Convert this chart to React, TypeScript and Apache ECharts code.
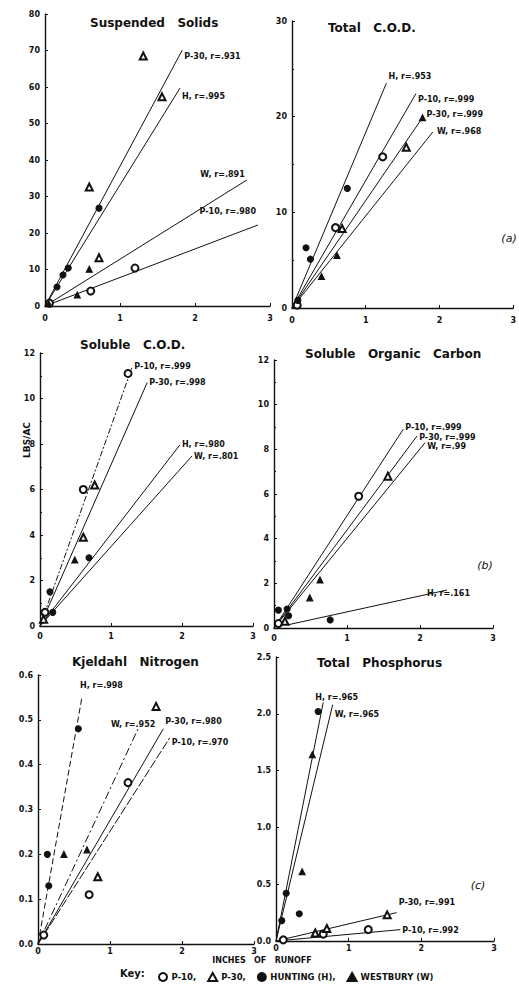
import React, { useEffect, useRef } from "react";
import * as echarts from "echarts";

// ---------------- data ----------------
const xTicks = [0, 1, 2, 3];
const siteNames = ["P-10", "P-30", "HUNTING (H)", "WESTBURY (W)"];
const panelTitles = [
  "Suspended   Solids",
  "Total   C.O.D.",
  "Soluble   C.O.D.",
  "Soluble   Organic   Carbon",
  "Kjeldahl   Nitrogen",
  "Total   Phosphorus",
];
const yMaxes = [80, 30, 12, 12, 0.6, 2.5];
const yIntervals = [10, 10, 2, 2, 0.1, 0.5];
const yDecimals = [0, 0, 0, 0, 1, 1];

// (a) Suspended Solids
const ssP10 = [[0.06, 0.8], [0.61, 4.1], [1.2, 10.4]];
const ssP30 = [[0.59, 32.6], [0.72, 13.2], [1.31, 68.5], [1.56, 57.3]];
const ssH = [[0.16, 5.2], [0.24, 8.5], [0.31, 10.4], [0.72, 26.8]];
const ssW = [[0.05, 0.6], [0.43, 3.0], [0.59, 10.1]];
const ssFitP10 = [[0, 0], [2.84, 22.2]];
const ssFitP30 = [[0, 0], [1.83, 70.1]];
const ssFitH = [[0, 0], [1.8, 59.7]];
const ssFitW = [[0, 0], [2.69, 34.5]];
const ssFitText = ["P-10, r=.980", "P-30, r=.931", "H, r=.995", "W, r=.891"];

// (a) Total C.O.D.
const tcP10 = [[0.07, 0.3], [0.59, 8.4], [1.23, 15.8]];
const tcP30 = [[0.68, 8.3], [1.55, 16.8]];
const tcH = [[0.08, 0.8], [0.19, 6.3], [0.25, 5.1], [0.75, 12.5]];
const tcW = [[0.4, 3.3], [0.61, 5.5], [1.77, 19.9]];
const tcFitP10 = [[0, 0], [1.68, 22.4]];
const tcFitP30 = [[0, 0], [1.77, 19.9]];
const tcFitH = [[0, 0], [1.28, 23.5]];
const tcFitW = [[0, 0], [1.91, 18.4]];
const tcFitText = ["P-10, r=.999", "P-30, r=.999", "H, r=.953", "W, r=.968"];

// (b) Soluble C.O.D.
const scP10 = [[0.07, 0.6], [0.61, 6.0], [1.24, 11.1]];
const scP30 = [[0.05, 0.3], [0.61, 3.9], [0.77, 6.2]];
const scH = [[0.14, 1.5], [0.18, 0.6], [0.69, 3.0]];
const scW = [[0.49, 2.9]];
const scFitP10 = [[0, 0], [1.3, 11.4]];
const scFitP30 = [[0, 0], [1.51, 10.7]];
const scFitH = [[0, 0], [1.97, 7.96]];
const scFitW = [[0, 0], [2.14, 7.47]];
const scFitText = ["P-10, r=.999", "P-30, r=.998", "H, r=.980", "W, r=.801"];

// (b) Soluble Organic Carbon
const socP10 = [[0.06, 0.2], [1.16, 5.9]];
const socP30 = [[0.15, 0.3], [1.56, 6.8]];
const socH = [[0.06, 0.8], [0.18, 0.85], [0.2, 0.55], [0.77, 0.36]];
const socW = [[0.49, 1.35], [0.63, 2.15]];
const socFitP10 = [[0, 0], [1.77, 8.9]];
const socFitP30 = [[0, 0], [1.96, 8.6]];
const socFitH = [[0.2, 0.15], [2.37, 1.7]];
const socFitW = [[0, 0], [2.07, 8.3]];
const socFitText = ["P-10, r=.999", "P-30, r=.999", "H, r=.161", "W, r=.99"];

// (c) Kjeldahl Nitrogen
const knP10 = [[0.08, 0.02], [0.71, 0.11], [1.25, 0.36]];
const knP30 = [[0.83, 0.15], [1.64, 0.53]];
const knH = [[0.13, 0.2], [0.15, 0.13], [0.56, 0.48]];
const knW = [[0.36, 0.2], [0.68, 0.21]];
const knFitP10 = [[0, 0], [1.83, 0.46]];
const knFitP30 = [[0, 0], [1.74, 0.48]];
const knFitH = [[0, 0], [0.61, 0.55]];
const knFitW = [[0, 0], [1.39, 0.48]];
const knFitText = ["P-10, r=.970", "P-30, r=.980", "H, r=.998", "W, r=.952"];

// (c) Total Phosphorus
const tpP10 = [[0.1, 0.01], [0.65, 0.06], [1.27, 0.1]];
const tpP30 = [[0.54, 0.07], [0.7, 0.11], [1.53, 0.23]];
const tpH = [[0.08, 0.18], [0.14, 0.42], [0.32, 0.24], [0.58, 2.02]];
const tpW = [[0.36, 0.61], [0.5, 1.64]];
const tpFitP10 = [[0, 0], [1.71, 0.1]];
const tpFitP30 = [[0, 0], [1.66, 0.25]];
const tpFitH = [[0, 0], [0.65, 2.1]];
const tpFitW = [[0, 0], [0.78, 2.08]];
const tpFitText = ["P-10, r=.992", "P-30, r=.991", "H, r=.965", "W, r=.965"];

// ---------------- layout / style ----------------
const INK = "#111111";
const FONT = "DejaVu Sans";

// grid boxes [left, top, width, height]
const boxes = [
  [45, 14, 225, 292],
  [292, 21, 224, 287],
  [40, 353, 213, 273],
  [274, 360, 219, 268],
  [38, 675, 216, 269],
  [276, 657, 218, 284],
];
const xLabelMargins = [8, 8, 6, 6, 3, 3];
const titlePos = [
  [90, 23],
  [328, 28],
  [80, 345],
  [305, 354],
  [72, 662],
  [317, 663],
];
const minorTicks = [false, true, true, true, false, false];

const SYM = [
  { symbol: "emptyCircle", size: 7 },
  { symbol: "emptyTriangle", size: 7 },
  { symbol: "circle", size: 6 },
  { symbol: "triangle", size: 6 },
];

// label placement per fit line: [position, dx, dy], order P-10, P-30, H, W
const fitLabelPlace: any[][] = [
  [["left", 0, -13], ["right", 0, 6], ["right", 0, 8], ["left", 0, -6]],
  [["right", 0, 6], ["right", 2, -3], ["right", 0, -7], ["right", 2, 0]],
  [["right", 0, 0], ["right", 0, 0], ["right", 0, 0], ["right", 0, 0]],
  [["right", 0, -2], ["right", 0, 2], ["right", -22, 3], ["right", 0, 4]],
  [["right", 0, 5], ["right", 0, -7], ["right", -4, -12], ["top", -5, 2]],
  [["right", 0, 1], ["right", 0, -10], ["right", -10, -5], ["right", 0, 10]],
];
const fitDash: any[][] = [
  ["solid", "solid", "solid", "solid"],
  ["solid", "solid", "solid", "solid"],
  [[6, 2, 2, 2], "solid", "solid", "solid"],
  ["solid", "solid", "solid", "solid"],
  [[9, 2], "solid", [6, 3], [8, 3, 2, 3]],
  ["solid", "solid", "solid", "solid"],
];

const panelPoints = [
  [ssP10, ssP30, ssH, ssW],
  [tcP10, tcP30, tcH, tcW],
  [scP10, scP30, scH, scW],
  [socP10, socP30, socH, socW],
  [knP10, knP30, knH, knW],
  [tpP10, tpP30, tpH, tpW],
];
const panelFits = [
  [ssFitP10, ssFitP30, ssFitH, ssFitW],
  [tcFitP10, tcFitP30, tcFitH, tcFitW],
  [scFitP10, scFitP30, scFitH, scFitW],
  [socFitP10, socFitP30, socFitH, socFitW],
  [knFitP10, knFitP30, knFitH, knFitW],
  [tpFitP10, tpFitP30, tpFitH, tpFitW],
];
const panelFitText = [ssFitText, tcFitText, scFitText, socFitText, knFitText, tpFitText];

function buildOption() {
  const grid: any[] = [];
  const xAxis: any[] = [];
  const yAxis: any[] = [];
  const series: any[] = [];
  const graphic: any[] = [];
  const lineStyle = { color: INK, width: 1.4 };
  const labelBase = { color: INK, fontSize: 8, fontFamily: FONT, fontWeight: "bold" };

  boxes.forEach((b, i) => {
    grid.push({ left: b[0], top: b[1], width: b[2], height: b[3] });
    xAxis.push({
      type: "value",
      gridIndex: i,
      min: xTicks[0],
      max: xTicks[xTicks.length - 1],
      interval: 1,
      axisLine: { show: true, onZero: false, lineStyle },
      axisTick: { show: true, inside: true, length: 3, lineStyle: { color: INK } },
      axisLabel: { ...labelBase, margin: xLabelMargins[i], formatter: (v: number) => String(v) },
      splitLine: { show: false },
    });
    yAxis.push({
      type: "value",
      gridIndex: i,
      min: 0,
      max: yMaxes[i],
      interval: yIntervals[i],
      axisLine: { show: true, onZero: false, lineStyle },
      axisTick: { show: true, inside: true, length: 3, lineStyle: { color: INK } },
      minorTick: { show: minorTicks[i], splitNumber: 2, length: 2, lineStyle: { color: INK } },
      axisLabel: { ...labelBase, margin: 5, formatter: (v: number) => v.toFixed(yDecimals[i]) },
      splitLine: { show: false },
    });

    panelPoints[i].forEach((pts, k) => {
      series.push({
        type: "scatter",
        name: siteNames[k],
        xAxisIndex: i,
        yAxisIndex: i,
        data: pts,
        symbol: SYM[k].symbol,
        symbolSize: SYM[k].size,
        itemStyle: { color: INK, borderColor: INK, borderWidth: 1.1, opacity: 1 },
        silent: true,
        z: 4,
      });
    });

    panelFits[i].forEach((f, k) => {
      const pl = fitLabelPlace[i][k];
      series.push({
        type: "line",
        name: "fit",
        xAxisIndex: i,
        yAxisIndex: i,
        data: [
          f[0],
          {
            value: f[1],
            label: {
              show: true,
              formatter: panelFitText[i][k],
              position: pl[0],
              distance: 2,
              offset: [pl[1], pl[2]],
              ...labelBase,
            },
          },
        ],
        symbol: "circle",
        symbolSize: 0.1,
        showSymbol: true,
        itemStyle: { color: "rgba(0,0,0,0)" },
        lineStyle: { color: INK, width: 1, type: fitDash[i][k] },
        silent: true,
        z: 3,
      });
    });

    graphic.push({
      type: "text",
      x: titlePos[i][0],
      y: titlePos[i][1],
      style: {
        text: panelTitles[i],
        fill: INK,
        fontSize: 12,
        fontFamily: FONT,
        fontWeight: "bold",
        align: "left",
        verticalAlign: "middle",
      },
    });
  });

  const txt = (text: string, x: number, y: number, extra: any = {}, rot = 0) => ({
    type: "text",
    x,
    y,
    rotation: rot,
    style: {
      text,
      fill: INK,
      fontSize: 9,
      fontFamily: FONT,
      fontWeight: "bold",
      align: "center",
      verticalAlign: "middle",
      ...extra,
    },
  });
  graphic.push(txt("(a)", 509, 238, { fontSize: 11, fontStyle: "italic", fontWeight: "normal" }));
  graphic.push(txt("(b)", 485, 565, { fontSize: 11, fontStyle: "italic", fontWeight: "normal" }));
  graphic.push(txt("(c)", 478, 885, { fontSize: 11, fontStyle: "italic", fontWeight: "normal" }));
  graphic.push(txt("LBS/AC", 27, 440, {}, Math.PI / 2));
  graphic.push(txt("INCHES   OF   RUNOFF", 262, 960, { fontSize: 8 }));
  graphic.push(txt("Key:", 120, 973, { fontSize: 10, align: "left" }));

  return {
    animation: false,
    backgroundColor: "#ffffff",
    grid,
    xAxis,
    yAxis,
    series,
    graphic,
    legend: {
      data: siteNames,
      left: 153,
      top: 967,
      orient: "horizontal",
      itemWidth: 9,
      itemHeight: 8,
      itemGap: 11,
      selectedMode: false,
      formatter: (n: string) => (n === siteNames[siteNames.length - 1] ? n : n + ","),
      textStyle: { color: INK, fontSize: 8.5, fontFamily: FONT, fontWeight: "bold", padding: [0, 0, 0, -1] },
    },
  };
}

export default function App() {
  const ref = useRef<HTMLDivElement>(null);
  useEffect(() => {
    if (!ref.current) return;
    const chart = echarts.init(ref.current, undefined, { renderer: "svg" });
    chart.setOption(buildOption() as any);
    return () => chart.dispose();
  }, []);
  return (
    <div
      ref={ref}
      style={{ position: "absolute", left: 0, top: 0, width: 519, height: 992, background: "#fff" }}
    />
  );
}
